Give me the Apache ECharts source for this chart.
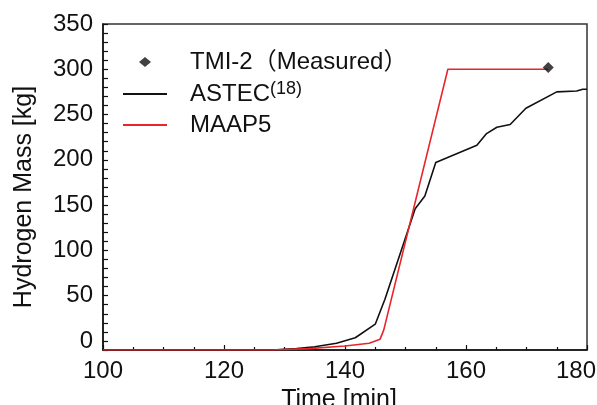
<!DOCTYPE html>
<html>
<head>
<meta charset="utf-8">
<script src="https://cdn.jsdelivr.net/npm/echarts@6/dist/echarts.min.js"></script>
<style>
  html, body { margin: 0; padding: 0; background: #fff; }
  #chart { width: 597px; height: 405px; }
</style>
</head>
<body>
<div id="chart"></div>
<script>
// Hydrogen mass produced during core degradation: measured value vs. two code predictions
const FONT = '"Liberation Sans", Arial, "Noto Sans CJK JP", sans-serif';

const xTicks = [100, 120, 140, 160, 180];
const yTicks = [0, 50, 100, 150, 200, 250, 300, 350];

// ASTEC calculation [min], [kg]
const astecTime = [100, 128, 132, 135, 138.6, 141.7, 145, 146.6, 150, 151.6, 153.2, 155,
  161.8, 163.4, 165.1, 167.3, 169.9, 175, 178.3, 179.3, 180];
const astecMass = [-10, -10, -8.5, -6.5, -2.5, 3.5, 18.5, 46, 114, 146, 160, 197,
  216, 229, 236, 239, 257, 275, 276, 278, 278];

// MAAP5 calculation [min], [kg]
const maapTime = [100, 128, 134, 140, 144, 145.8, 146.4, 157, 173.6];
const maapMass = [-10, -10, -8.5, -5.5, -2.5, 2, 12, 300, 300];

// TMI-2 measured total
const measuredTime = [173.6];
const measuredMass = [302];

const pairs = (xs, ys) => xs.map((x, i) => [x, ys[i]]);

const chart = echarts.init(document.getElementById('chart'));

const richText = {
  sp: { width: 18 },
  sp2: { width: 34 },
  t: { fontSize: 24, fontFamily: FONT, color: '#111' },
  sup: { fontSize: 18, fontFamily: FONT, color: '#111', padding: [0, 0, 10, 0] }
};

const legendBase = {
  orient: 'vertical',
  padding: 0,
  left: 123,
  itemWidth: 44,
  itemHeight: 2,
  textStyle: { color: '#111', fontFamily: FONT, fontSize: 24, rich: richText },
  selectedMode: false
};

chart.setOption({
  animation: false,
  backgroundColor: '#fff',
  grid: {
    left: 103, right: 10, top: 24, bottom: 55,
    outerBoundsMode: 'none',
    show: true, borderColor: '#333', borderWidth: 1.5
  },
  legend: [
    Object.assign({}, legendBase, {
      top: 50,
      left: 139,
      itemWidth: 12,
      itemHeight: 10,
      symbolKeepAspect: false,
      data: [{ name: 'TMI-2（Measured）', icon: 'diamond', itemStyle: { color: '#111' } }],
      formatter: n => '{sp2|}{t|' + n + '}'
    }),
    Object.assign({}, legendBase, {
      top: 80,
      data: [{ name: 'ASTEC', icon: 'rect', itemStyle: { color: '#111' } }],
      formatter: n => '{sp|}{t|' + n + '}{sup|(18)}'
    }),
    Object.assign({}, legendBase, {
      top: 113,
      data: [{ name: 'MAAP5', icon: 'rect', itemStyle: { color: '#e8262a' } }],
      formatter: n => '{sp|}{t|' + n + '}'
    })
  ],
  xAxis: {
    type: 'value',
    min: xTicks[0], max: xTicks[xTicks.length - 1], interval: 20,
    name: 'Time [min]',
    nameLocation: 'middle',
    nameGap: 27,
    nameTextStyle: { fontFamily: FONT, fontSize: 25, color: '#111', padding: [0, 12, 0, 0] },
    axisLine: { show: true, onZero: false, lineStyle: { color: '#111', width: 1.5 } },
    axisTick: { show: true, inside: true, length: 5, lineStyle: { color: '#111', width: 1.2 } },
    minorTick: { show: true, splitNumber: 4, length: 3, lineStyle: { color: '#111', width: 1.2 } },
    axisLabel: {
      fontFamily: FONT, fontSize: 24, color: '#111', margin: 9,
      formatter: v => (v === xTicks[xTicks.length - 1] ? '{r|' + v + '}' : String(v)),
      rich: { r: { fontFamily: FONT, fontSize: 24, color: '#111', width: 62, align: 'left' } }
    },
    splitLine: { show: false }
  },
  yAxis: {
    type: 'value',
    min: -10, max: 350, interval: 10,
    name: 'Hydrogen Mass [kg]',
    nameLocation: 'middle',
    nameGap: 66,
    nameTextStyle: { fontFamily: FONT, fontSize: 25, color: '#111', padding: [0, 20, 0, 0] },
    axisLine: { show: true, onZero: false, lineStyle: { color: '#111', width: 1.5 } },
    axisTick: { show: true, inside: true, length: 5, lineStyle: { color: '#111', width: 1.2 } },
    axisLabel: { fontFamily: FONT, fontSize: 24, color: '#111', margin: 10, customValues: yTicks },
    splitLine: { show: false }
  },
  series: [
    {
      name: 'TMI-2（Measured）',
      type: 'scatter',
      symbol: 'diamond',
      symbolSize: 11,
      itemStyle: { color: '#111' },
      data: pairs(measuredTime, measuredMass),
      z: 5
    },
    {
      name: 'ASTEC',
      type: 'line',
      symbol: 'none',
      lineStyle: { color: '#111', width: 1.6 },
      itemStyle: { color: '#111' },
      data: pairs(astecTime, astecMass),
      z: 3
    },
    {
      name: 'MAAP5',
      type: 'line',
      symbol: 'none',
      lineStyle: { color: '#e8262a', width: 1.6 },
      itemStyle: { color: '#e8262a' },
      data: pairs(maapTime, maapMass),
      z: 4
    }
  ]
});
</script>
</body>
</html>
